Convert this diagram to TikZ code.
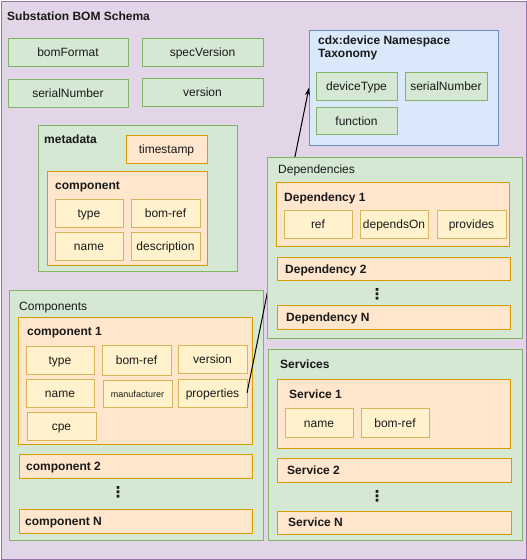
\documentclass[tikz,border=0pt]{standalone}
\usepackage{fontspec}
\setmainfont{Liberation Sans}
\newfontfamily\dejavu{DejaVu Sans}
\usetikzlibrary{arrows.meta}
\definecolor{pfill}{HTML}{E1D5E7}\definecolor{pline}{HTML}{9673A6}
\definecolor{gfill}{HTML}{D5E8D4}\definecolor{gline}{HTML}{82B366}
\definecolor{ofill}{HTML}{FFE6CC}\definecolor{oline}{HTML}{D79B00}
\definecolor{yfill}{HTML}{FFF2CC}\definecolor{yline}{HTML}{D6B656}
\definecolor{bfill}{HTML}{DAE8FC}\definecolor{bline}{HTML}{6C8EBF}
\newcommand\bx[7]{\node[#2, minimum width={#5-#3}, minimum height={#6-#4}] (#1) at ({(#3+#5)/2},{(#4+#6)/2}) {#7};}
\tikzset{
  base/.style={rectangle, inner sep=0pt, outer sep=0pt, line width=1pt, text height=9pt, text depth=0pt, font=\fontsize{12}{14}\selectfont, text=black!90},
  purplebox/.style={base, draw=pline, fill=pfill},
  greenbox/.style={base, draw=gline, fill=gfill},
  orangebox/.style={base, draw=oline, fill=ofill},
  yellowbox/.style={base, draw=yline, fill=yfill},
  bluebox/.style={base, draw=bline, fill=bfill},
  lbl/.style={anchor=west, inner sep=0pt, text height=9pt, text depth=0pt, font=\fontsize{12}{14}\selectfont, text=black!90},
  blbl/.style={lbl, font=\fontsize{12}{14}\selectfont\bfseries},
  vdots/.style={inner sep=0pt, font=\dejavu\bfseries\fontsize{15}{15}\selectfont, text=black!90},
  link/.style={line width=1pt, -{Stealth[length=8pt,width=5pt]}}
}
\begin{document}
\begin{tikzpicture}[x=1pt,y=-1pt]
\useasboundingbox (0,0) rectangle (527,560);
% outer
\bx{schema}{purplebox}{1}{1}{526}{559}{}
\node[blbl] (title) at (7,15.5) {Substation BOM Schema};
% top fields
\bx{bomformat}{greenbox}{8}{38}{128}{66}{bomFormat}
\bx{specversion}{greenbox}{142}{38}{263}{66}{specVersion}
\bx{serialnumber}{greenbox}{8}{79}{128}{107}{serialNumber}
\bx{version}{greenbox}{142}{78}{263}{106}{version}
% metadata
\bx{metadata}{greenbox}{38}{125}{237}{271}{}
\node[blbl] (metadatalbl) at (44,139) {metadata};
\bx{timestamp}{orangebox}{126}{135}{207}{163}{timestamp}
\bx{mcomp}{orangebox}{47}{171}{207}{265}{}
\node[blbl] (mcomplbl) at (55,185) {component};
\bx{mtype}{yellowbox}{55}{199}{123}{227}{type}
\bx{mbomref}{yellowbox}{131}{199}{200}{227}{bom-ref}
\bx{mname}{yellowbox}{55}{232}{123}{260}{name}
\bx{mdesc}{yellowbox}{131}{232}{200}{260}{description}
% cdx device taxonomy
\bx{cdx}{bluebox}{309}{30}{498}{145}{}
\node[blbl, anchor=north west, align=left, text height=, text depth=] (cdxlbl) at (318,35.5) {cdx:device Namespace\\[-0.5pt]Taxonomy};
\bx{devicetype}{greenbox}{316}{72}{397}{100}{deviceType}
\bx{cdxserial}{greenbox}{405}{72}{487}{100}{serialNumber}
\bx{function}{greenbox}{316}{107}{397}{134}{function}
% components
\bx{components}{greenbox}{9}{290}{263}{540}{}
\node[lbl] (componentslbl) at (19,305.5) {Components};
\bx{comp1}{orangebox}{18}{317}{252}{444}{}
\node[blbl] (comp1lbl) at (27,331) {component 1};
\bx{ctype}{yellowbox}{26}{346}{94}{374}{type}
\bx{cbomref}{yellowbox}{102}{345}{171}{375}{bom-ref}
\bx{cversion}{yellowbox}{178}{345}{247}{373}{version}
\bx{cname}{yellowbox}{26}{379}{94}{407}{name}
\node[yellowbox, minimum width=69, minimum height=27, text height=7pt, font=\fontsize{9}{11}\selectfont] (cmanuf) at (137.5,393.5) {manufacturer};
\bx{cprops}{yellowbox}{178}{379}{247}{407}{properties}
\bx{ccpe}{yellowbox}{27}{412}{96}{440}{cpe}
\bx{comp2}{orangebox}{19}{454}{252}{478}{}
\node[blbl] (comp2lbl) at (26,466) {component 2};
\node[vdots, text height=, text depth=] (compdots) at (118,492.5) {⋮};
\bx{compn}{orangebox}{19}{509}{252}{533}{}
\node[blbl] (compnlbl) at (25,521) {component N};
% link (behind dependencies)
\draw[link] (cprops.east) -- (cdx.west);
% dependencies
\bx{dependencies}{greenbox}{267}{157}{522}{338}{}
\node[lbl] (dependencieslbl) at (278,168.5) {Dependencies};
\bx{dep1}{orangebox}{276}{182}{509}{246}{}
\node[blbl] (dep1lbl) at (284,197) {Dependency 1};
\bx{dref}{yellowbox}{284}{210}{352}{238}{ref}
\bx{ddependson}{yellowbox}{360}{210}{428}{238}{dependsOn}
\bx{dprovides}{yellowbox}{437}{210}{506}{238}{provides}
\bx{dep2}{orangebox}{277}{257}{510}{280}{}
\node[blbl] (dep2lbl) at (285,268.5) {Dependency 2};
\node[vdots, text height=, text depth=] (depdots) at (377,294) {⋮};
\bx{depn}{orangebox}{277}{305}{510}{329}{}
\node[blbl] (depnlbl) at (286,317) {Dependency N};
% services
\bx{services}{greenbox}{268}{349}{522}{540}{}
\node[blbl] (serviceslbl) at (280,364) {Services};
\bx{svc1}{orangebox}{277}{379}{510}{448}{}
\node[blbl] (svc1lbl) at (289,394) {Service 1};
\bx{sname}{yellowbox}{285}{408}{353}{437}{name}
\bx{sbomref}{yellowbox}{361}{408}{429}{437}{bom-ref}
\bx{svc2}{orangebox}{277}{458}{511}{482}{}
\node[blbl] (svc2lbl) at (287,470) {Service 2};
\node[vdots, text height=, text depth=] (svcdots) at (377,496.5) {⋮};
\bx{svcn}{orangebox}{277}{511}{511}{534}{}
\node[blbl] (svcnlbl) at (288,522) {Service N};
\end{tikzpicture}
\end{document}
